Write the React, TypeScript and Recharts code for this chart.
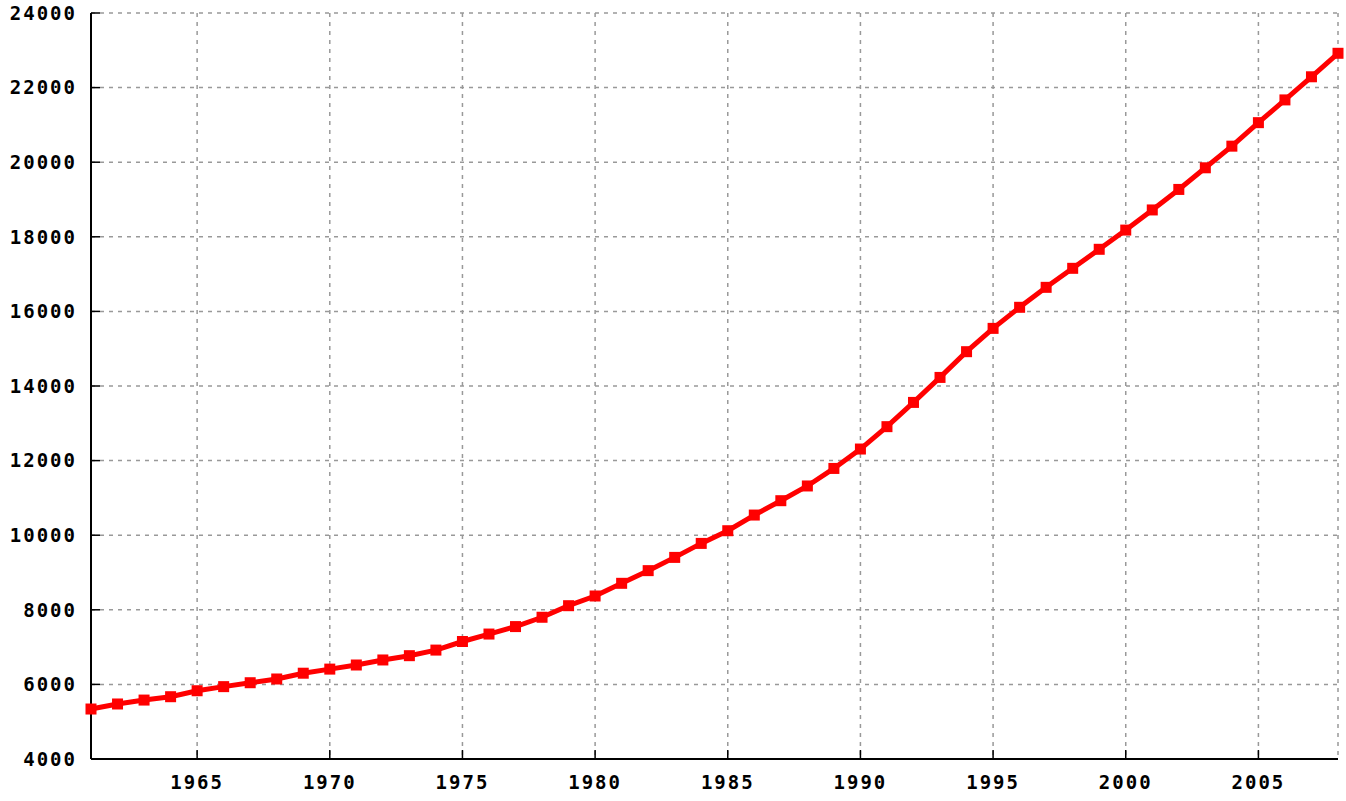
import React from 'react'
import { LineChart, Line, XAxis, YAxis, CartesianGrid } from 'recharts'

const YEARS = [
  1961, 1962, 1963, 1964, 1965, 1966, 1967, 1968, 1969, 1970,
  1971, 1972, 1973, 1974, 1975, 1976, 1977, 1978, 1979, 1980,
  1981, 1982, 1983, 1984, 1985, 1986, 1987, 1988, 1989, 1990,
  1991, 1992, 1993, 1994, 1995, 1996, 1997, 1998, 1999, 2000,
  2001, 2002, 2003, 2004, 2005, 2006, 2007, 2008,
]

const POPULATION = [
  5340, 5475, 5580, 5670, 5830, 5940, 6045, 6145, 6300, 6410,
  6520, 6655, 6770, 6920, 7150, 7350, 7550, 7800, 8110, 8370,
  8710, 9050, 9405, 9780, 10120, 10540, 10925, 11320, 11790, 12310,
  12910, 13560, 14230, 14920, 15545, 16110, 16645, 17155, 17665, 18180,
  18720, 19270, 19850, 20430, 21060, 21670, 22290, 22920,
]

const X_TICKS = [1965, 1970, 1975, 1980, 1985, 1990, 1995, 2000, 2005]
const Y_TICKS = [4000, 6000, 8000, 10000, 12000, 14000, 16000, 18000, 20000, 22000, 24000]

const data = YEARS.map((year, i) => ({ year, value: POPULATION[i] }))

const tickFont = {
  fontFamily: '"DejaVu Sans Mono", monospace',
  fontSize: 19,
  fontWeight: 'bold',
  letterSpacing: 2,
  fill: '#000',
}

function SquareDot(props: any) {
  const { cx, cy, index } = props
  if (cx == null || cy == null) return null
  return <rect key={index} x={cx - 5.5} y={cy - 5.5} width={11} height={11} fill="#ff0000" />
}

export default function App() {
  return (
    <div style={{ position: 'absolute', left: 0, top: 0, background: '#fff' }}>
      <LineChart
        width={1346}
        height={801}
        data={data}
        margin={{ top: 13, right: 8, bottom: 0, left: 0 }}
      >
        <CartesianGrid
          xAxisId="bottom"
          yAxisId="left"
          stroke="#999"
          strokeWidth={1.5}
          strokeDasharray="4 5"
        />
        <XAxis
          xAxisId="bottom"
          dataKey="year"
          type="number"
          domain={[1961, 2008]}
          ticks={X_TICKS}
          height={42}
          tick={tickFont}
          tickSize={-9}
          tickMargin={26}
          axisLine={{ stroke: '#000', strokeWidth: 2 }}
          tickLine={{ stroke: '#000', strokeWidth: 1.5 }}
        />
        <XAxis
          xAxisId="top"
          orientation="top"
          dataKey="year"
          type="number"
          domain={[1961, 2008]}
          ticks={X_TICKS}
          height={0}
          tick={false}
          tickSize={-9}
          axisLine={{ stroke: '#000', strokeWidth: 2 }}
          tickLine={{ stroke: '#000', strokeWidth: 1.5 }}
        />
        <YAxis
          yAxisId="left"
          type="number"
          domain={[4000, 24000]}
          ticks={Y_TICKS}
          width={91}
          tick={tickFont}
          tickSize={-9}
          tickMargin={23}
          axisLine={{ stroke: '#000', strokeWidth: 2 }}
          tickLine={{ stroke: '#000', strokeWidth: 1.5 }}
        />
        <YAxis
          yAxisId="right"
          orientation="right"
          type="number"
          domain={[4000, 24000]}
          ticks={Y_TICKS}
          width={0}
          tick={false}
          tickSize={-9}
          axisLine={{ stroke: '#000', strokeWidth: 2 }}
          tickLine={{ stroke: '#000', strokeWidth: 1.5 }}
        />
        <Line
          xAxisId="bottom"
          yAxisId="left"
          type="linear"
          dataKey="value"
          stroke="#ff0000"
          strokeWidth={5}
          dot={<SquareDot />}
          activeDot={false}
          isAnimationActive={false}
        />
      </LineChart>
    </div>
  )
}
